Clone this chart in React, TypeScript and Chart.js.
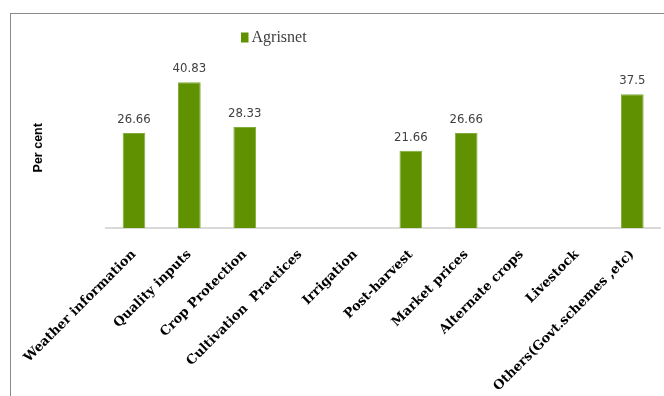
import React, { useEffect, useRef } from "react";
import { Chart, registerables } from "chart.js";

Chart.register(...registerables);

const categories = [
  "Weather information",
  "Quality inputs",
  "Crop Protection",
  "Cultivation  Practices",
  "Irrigation",
  "Post-harvest",
  "Market prices",
  "Alternate crops",
  "Livestock",
  "Others(Govt.schemes ,etc)",
];
const seriesLabel = "Agrisnet";
const agrisnetValues = [26.66, 40.83, 28.33, 0, 0, 21.66, 26.66, 0, 0, 37.5];
const yAxisTitle = "Per cent";

const BAR_COLOR = "#5f9100";

const dataLabelPlugin = {
  id: "dataLabels",
  afterDatasetsDraw(chart: any) {
    const ctx = chart.ctx;
    const meta = chart.getDatasetMeta(0);
    const values = chart.data.datasets[0].data as number[];
    ctx.save();
    ctx.font = "13px 'DejaVu Sans Condensed', 'DejaVu Sans', sans-serif";
    ctx.fillStyle = "#404040";
    ctx.textAlign = "center";
    ctx.textBaseline = "alphabetic";
    meta.data.forEach((bar: any, i: number) => {
      const v = values[i];
      if (!v) return;
      ctx.fillText(String(v), bar.x, bar.y - 10);
    });
    ctx.restore();
  },
};

const legendPlugin = {
  id: "customLegend",
  afterDraw(chart: any) {
    const ctx = chart.ctx;
    const ds = chart.data.datasets[0];
    ctx.save();
    ctx.fillStyle = ds.backgroundColor;
    ctx.fillRect(241, 32.5, 7.5, 10);
    ctx.font = "16px 'Liberation Serif', serif";
    ctx.fillStyle = "#404040";
    ctx.textAlign = "left";
    ctx.textBaseline = "middle";
    ctx.fillText(ds.label, 251.5, 37.5);
    ctx.restore();
  },
};

export default function App() {
  const canvasRef = useRef<HTMLCanvasElement>(null);

  useEffect(() => {
    const canvas = canvasRef.current;
    if (!canvas) return;
    const chart = new Chart(canvas, {
      type: "bar",
      data: {
        labels: categories,
        datasets: [
          {
            label: seriesLabel,
            data: agrisnetValues,
            backgroundColor: BAR_COLOR,
            borderColor: "#82ad3a",
            borderWidth: 1,
            categoryPercentage: 1,
            barPercentage: 0.41,
          },
        ],
      },
      options: {
        responsive: false,
        animation: false,
        layout: { padding: { left: 31, right: 4, top: 67.5, bottom: 0 } },
        plugins: {
          legend: { display: false },
          tooltip: { enabled: false },
        },
        scales: {
          x: {
            grid: { display: false },
            border: { display: true, color: "#d9d9d9", width: 2 },
            ticks: {
              autoSkip: false,
              maxRotation: 45,
              minRotation: 45,
              padding: 11,
              color: "#000000",
              font: { family: "'DejaVu Serif', serif", size: 13, weight: "bold" },
            },
            afterFit(scale: any) {
              scale.height = 168;
            },
          },
          y: {
            min: 0,
            max: 45,
            grid: { display: false },
            border: { display: false },
            ticks: { display: false },
            title: {
              display: true,
              text: yAxisTitle,
              color: "#000000",
              padding: { top: 0, bottom: 0 },
              font: { family: "'Liberation Sans', sans-serif", size: 12.5, weight: "bold" },
            },
            afterFit(scale: any) {
              scale.width = 75.3;
            },
          },
        },
      },
      plugins: [dataLabelPlugin, legendPlugin],
    });
    return () => chart.destroy();
  }, []);

  return (
    <div
      style={{
        position: "fixed",
        left: 0,
        top: 0,
        width: 664,
        height: 396,
        background: "#ffffff",
        overflow: "hidden",
      }}
    >
      <div
        style={{
          position: "absolute",
          left: 10,
          top: 13,
          width: 700,
          height: 420,
          borderTop: "1.5px solid #8a8a8a",
          borderLeft: "1.5px solid #8a8a8a",
        }}
      />
      <canvas
        ref={canvasRef}
        width={664}
        height={396}
        style={{ position: "absolute", left: 0, top: 0, width: 664, height: 396 }}
      />
    </div>
  );
}
